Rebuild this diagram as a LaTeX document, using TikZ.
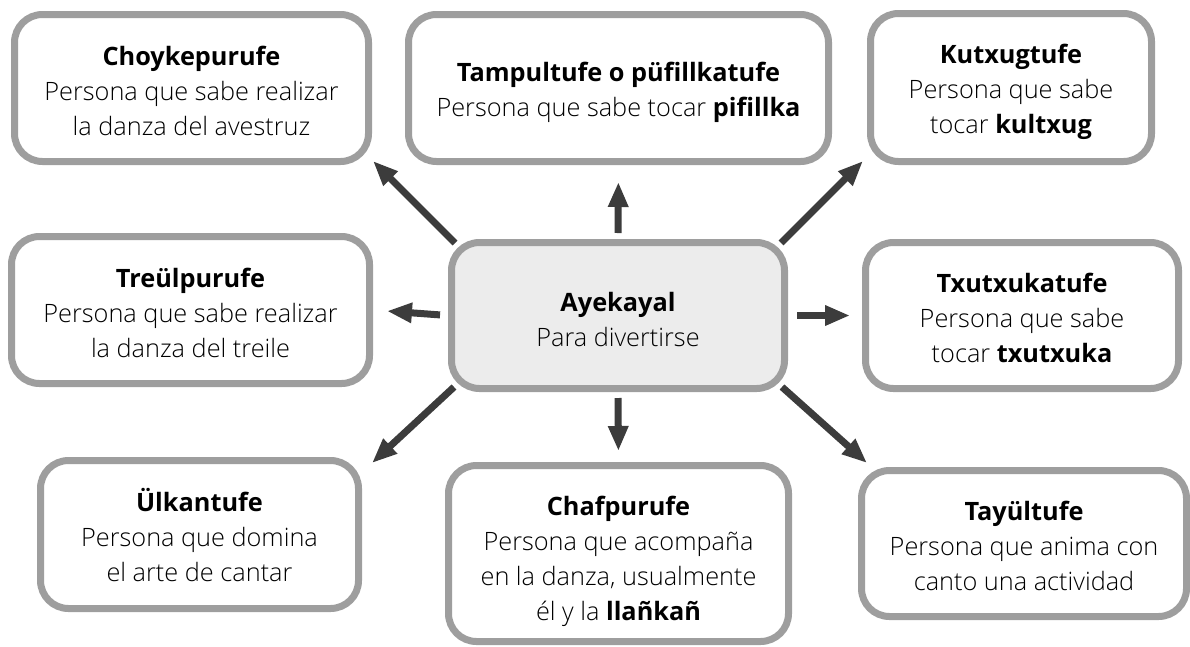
\documentclass[tikz,border=0pt]{standalone}
\usepackage{fontspec}
\setmainfont{Open Sans}[UprightFont={* Light},BoldFont={* Bold}]
\usetikzlibrary{arrows.meta}
\definecolor{boxline}{HTML}{9E9E9E}
\definecolor{arrcol}{HTML}{3C3C3C}
\definecolor{cenfill}{HTML}{ECECEC}
\begin{document}
\begin{tikzpicture}[x=1pt,y=-1pt,
  box/.style={draw=boxline,line width=7pt,rounded corners=28pt,fill=white,inner sep=0pt},
  txt/.style={align=center,inner sep=0pt,font=\fontsize{25.3}{35}\selectfont},
  arr/.style={draw=arrcol,line width=7pt,-{Triangle[length=25pt,width=19pt]}}]
\useasboundingbox (0,0) rectangle (1190,646);
% boxes
\node[box,minimum width=354pt,minimum height=147pt] (cho) at (191.5,88) {};
\node[box,minimum width=420pt,minimum height=147pt] (tam) at (618.5,88) {};
\node[box,minimum width=281pt,minimum height=148pt] (kut) at (1011,87.5) {};
\node[box,minimum width=358pt,minimum height=147pt] (tre) at (190.5,310) {};
\node[box,fill=cenfill,minimum width=333pt,minimum height=146pt] (cen) at (618,315.5) {};
\node[box,minimum width=313pt,minimum height=146pt] (txu) at (1022,315.5) {};
\node[box,minimum width=318pt,minimum height=148pt] (ulk) at (199.5,534.5) {};
\node[box,minimum width=340pt,minimum height=176pt] (cha) at (618.5,553.5) {};
\node[box,minimum width=325pt,minimum height=146pt] (tay) at (1024,543.5) {};
% texts
\node[txt] (cho-t) at ([yshift=-3pt]cho.center) {\textbf{Choykepurufe}\\Persona que sabe realizar\\la danza del avestruz};
\node[txt] (tam-t) at ([yshift=-4pt]tam.center) {\textbf{Tampultufe o püfillkatufe}\\Persona que sabe tocar \textbf{pifillka}};
\node[txt] (kut-t) at ([yshift=-4pt]kut.center) {\textbf{Kutxugtufe}\\Persona que sabe\\tocar \textbf{kultxug}};
\node[txt] (tre-t) at ([yshift=-3pt]tre.center) {\textbf{Treülpurufe}\\Persona que sabe realizar\\la danza del treile};
\node[txt] (cen-t) at ([yshift=-4pt]cen.center) {\textbf{Ayekayal}\\Para divertirse};
\node[txt] (txu-t) at ([yshift=-2pt]txu.center) {\textbf{Txutxukatufe}\\Persona que sabe\\tocar \textbf{txutxuka}};
\node[txt] (ulk-t) at ([yshift=-1pt]ulk.center) {\textbf{Ülkantufe}\\Persona que domina\\el arte de cantar};
\node[txt] (cha-t) at ([yshift=-8pt]cha.center) {\textbf{Chafpurufe}\\Persona que acompaña\\en la danza, usualmente\\él y la \textbf{llañkañ}};
\node[txt] (tay-t) at ([yshift=-2pt]tay.center) {\textbf{Tayültufe}\\Persona que anima con\\canto una actividad};
% arrow end points
\coordinate (s1) at (455,243); \coordinate (e1) at (373,161);
\coordinate (s3) at (781,243); \coordinate (e3) at (863,161);
\coordinate (s6) at (454,387); \coordinate (e6) at (372,463);
\coordinate (s8) at (782,387); \coordinate (e8) at (867,463);
\draw[arr] (s1) -- (e1);
\draw[arr,shorten <=6pt,shorten >=17pt] (cen.north) -- (tam.south);
\draw[arr] (s3) -- (e3);
\draw[arr,shorten <=8pt,shorten >=14pt] (cen.west) -- (tre.east);
\draw[arr,shorten <=9pt,shorten >=12pt] (cen.east) -- (txu.west);
\draw[arr] (s6) -- (e6);
\draw[arr,shorten <=6pt,shorten >=11pt] (cen.south) -- (cha.north);
\draw[arr] (s8) -- (e8);
\end{tikzpicture}
\end{document}
